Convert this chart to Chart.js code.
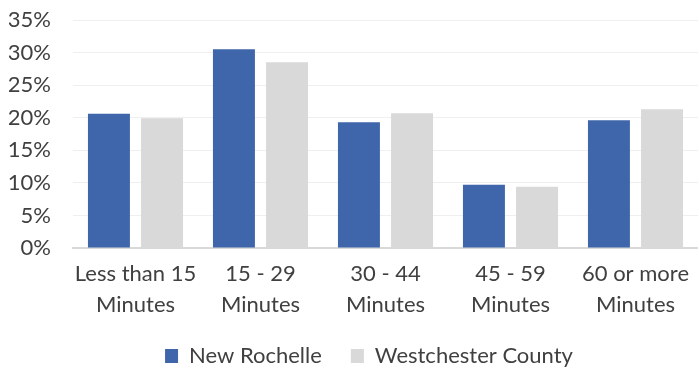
<!DOCTYPE html>
<html>
<head>
<meta charset="utf-8">
<script src="https://cdn.jsdelivr.net/npm/chart.js@4/dist/chart.umd.min.js"></script>
<style>
  html, body { margin: 0; padding: 0; background: #fff; overflow: hidden; }
  #wrap { width: 699px; height: 373px; }
</style>
</head>
<body>
<div id="wrap"><canvas id="chart"></canvas></div>
<script>
const categories = [
  ['Less than 15', 'Minutes'],
  ['15 - 29', 'Minutes'],
  ['30 - 44', 'Minutes'],
  ['45 - 59', 'Minutes'],
  ['60 or more', 'Minutes']
];
const newRochelle = [20.6, 30.5, 19.3, 9.7, 19.6];
const westchester = [19.9, 28.5, 20.7, 9.4, 21.3];
const yTicks = [0, 5, 10, 15, 20, 25, 30, 35];

const textColor = '#404040';
const fontFamily = 'Lato, "Open Sans", sans-serif';

const data = {
  labels: categories,
  datasets: [{
    label: 'New Rochelle',
    data: newRochelle,
    backgroundColor: '#3F66AA',
    borderWidth: 0
  },
  {
    label: 'Westchester County',
    data: westchester,
    backgroundColor: '#D9D9D9',
    borderWidth: 0
  }]
};

// legend sits a bit right of the canvas centre in the original
const shiftLegend = {
  id: 'shiftLegend',
  afterLayout(chart) {
    chart.legend.left += 15;
    chart.legend.right += 15;
  }
};

const config = {
  type: 'bar',
  data: data,
  plugins: [shiftLegend],
  options: {
    responsive: true,
    maintainAspectRatio: false,
    animation: false,
    layout: { padding: { left: 9, right: 0, top: 20, bottom: -4 } },
    datasets: {
      bar: { categoryPercentage: 0.85, barPercentage: 0.79 }
    },
    scales: {
      x: {
        afterFit: (scale) => { scale.height = 68; },
        grid: { display: false, drawTicks: false },
        border: { color: '#D9D9D9', width: 2 },
        ticks: {
          color: textColor,
          padding: 10,
          maxRotation: 0,
          autoSkip: false,
          font: { family: fontFamily, size: 22, lineHeight: 1.41 }
        }
      },
      y: {
        min: 0,
        max: 35,
        afterFit: (scale) => { scale.width = 64; },
        afterBuildTicks: (scale) => { scale.ticks = yTicks.map(v => ({ value: v })); },
        grid: { color: '#EFEFEF', lineWidth: 1, drawTicks: true, tickLength: 22, tickColor: 'rgba(0,0,0,0)' },
        border: { display: false },
        ticks: {
          color: textColor,
          padding: 0,
          autoSkip: false,
          font: { family: fontFamily, size: 22 },
          callback: (v) => v + '%'
        }
      }
    },
    plugins: {
      legend: {
        position: 'bottom',
        labels: {
          color: textColor,
          boxWidth: 13,
          boxHeight: 14,
          padding: 29,
          font: { family: fontFamily, size: 22 }
        }
      },
      tooltip: { enabled: false }
    }
  }
};

const myChart = new Chart(document.getElementById('chart'), config);
</script>
</body>
</html>
